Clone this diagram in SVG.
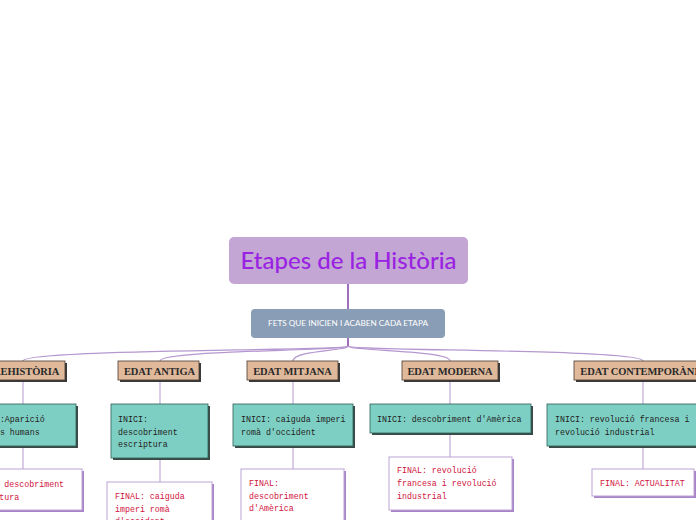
<svg xmlns="http://www.w3.org/2000/svg" width="696" height="520" viewBox="0 0 696 520">
<style>
.stage rect.b{fill:#e0b99b;stroke:#4a3a30;stroke-width:0.8}
.stage rect.s{fill:#3a3a3a}
.stage text{font-family:"Liberation Serif",serif;font-weight:bold;font-size:10.5px;fill:#2a2a2a;text-anchor:middle;letter-spacing:-0.1px}
.ini rect.b{fill:#7ecfc3;stroke:#2f5d55;stroke-width:0.8}
.ini rect.s{fill:#3a4a47}
.ini text{font-family:"Liberation Mono","DejaVu Sans Mono",monospace;font-size:8.3px;fill:#1e1e1e}
.fin rect.b{fill:#ffffff;stroke:#bda3d6;stroke-width:1}
.fin rect.s{fill:#a782c6}
.fin text{font-family:"Liberation Mono","DejaVu Sans Mono",monospace;font-size:8.3px;fill:#d0123c}
.lnk{fill:none;stroke:#c7b0dc;stroke-width:1.3}
.br{fill:none;stroke:#b597d0;stroke-width:1.2}
</style>
<rect width="696" height="520" fill="#ffffff"/>
<g id="connectors">
<path d="M348,284 L348,309" fill="none" stroke="#7f3fa6" stroke-width="1.5"/>
<path d="M348,338 L348,346" fill="none" stroke="#7f3fa6" stroke-width="1.5"/>
<path class="br" d="M348,346 C348,351 23,349 23,361"/>
<path class="br" d="M348,346 C348,351 160,350 160,361"/>
<path class="br" d="M348,346 C348,351 293,350 293,361"/>
<path class="br" d="M348,346 C348,351 450,350 450,361"/>
<path class="br" d="M348,346 C348,351 643,349 643,361"/>
<path class="lnk" d="M23,380 L23,404 M23,446 L23,469"/>
<path class="lnk" d="M160,380 L160,404 M160,458 L160,482"/>
<path class="lnk" d="M293,380 L293,404 M293,446 L293,469"/>
<path class="lnk" d="M450,380 L450,404 M450,434 L450,457"/>
<path class="lnk" d="M643,380 L643,404 M643,446 L643,469"/>
</g>
<g id="title">
<rect x="229" y="237" width="239" height="47" rx="5" fill="#c3a6d4"/>
<text x="348.5" y="269" font-family="Lato,'Noto Sans',sans-serif" font-size="23" font-weight="500" fill="#9a22e2" text-anchor="middle" textLength="216" lengthAdjust="spacingAndGlyphs">Etapes de la Història</text>
</g>
<g id="subtitle">
<rect x="251" y="309" width="194" height="29" rx="4" fill="#8a9db6"/>
<text x="348" y="326" font-family="Lato,'Noto Sans',sans-serif" font-size="7.5" fill="#ffffff" text-anchor="middle" textLength="160" lengthAdjust="spacingAndGlyphs">FETS QUE INICIEN I ACABEN CADA ETAPA</text>
</g>
<g id="stage-prehistoria" class="stage">
<rect class="s" x="-17" y="363" width="84" height="19"/>
<rect class="b" x="-19" y="361" width="84" height="19"/>
<text x="23" y="374.5">PREHISTÒRIA</text>
</g>
<g id="stage-antiga" class="stage">
<rect class="s" x="120" y="363" width="81" height="19"/>
<rect class="b" x="118" y="361" width="81" height="19"/>
<text x="159.5" y="374.5">EDAT ANTIGA</text>
</g>
<g id="stage-mitjana" class="stage">
<rect class="s" x="249" y="363" width="91" height="19"/>
<rect class="b" x="247" y="361" width="91" height="19"/>
<text x="292.5" y="374.5">EDAT MITJANA</text>
</g>
<g id="stage-moderna" class="stage">
<rect class="s" x="404" y="363" width="96" height="19"/>
<rect class="b" x="402" y="361" width="96" height="19"/>
<text x="450" y="374.5">EDAT MODERNA</text>
</g>
<g id="stage-contemporania" class="stage">
<rect class="s" x="576" y="363" width="142" height="19"/>
<rect class="b" x="574" y="361" width="142" height="19"/>
<text x="643" y="374.5">EDAT CONTEMPORÀNIA</text>
</g>
<g id="inici-prehistoria" class="ini">
<rect class="s" x="-33" y="406" width="111" height="42"/>
<rect class="b" x="-35" y="404" width="111" height="42"/>
<text x="-25" y="422">INICI:Aparició</text>
<text x="-25" y="434.5">éssers humans</text>
</g>
<g id="inici-antiga" class="ini">
<rect class="s" x="113" y="406" width="97" height="54"/>
<rect class="b" x="111" y="404" width="97" height="54"/>
<text x="118" y="422">INICI:</text>
<text x="118" y="434.5">descobriment</text>
<text x="118" y="447">escriptura</text>
</g>
<g id="inici-mitjana" class="ini">
<rect class="s" x="235" y="406" width="120" height="42"/>
<rect class="b" x="233" y="404" width="120" height="42"/>
<text x="241" y="422">INICI: caiguda imperi</text>
<text x="241" y="434.5">romà d'occident</text>
</g>
<g id="inici-moderna" class="ini">
<rect class="s" x="372" y="406" width="161" height="29"/>
<rect class="b" x="370" y="404" width="161" height="29"/>
<text x="377" y="422">INICI: descobriment d'Amèrica</text>
</g>
<g id="inici-contemporania" class="ini">
<rect class="s" x="549" y="406" width="155" height="42"/>
<rect class="b" x="547" y="404" width="155" height="42"/>
<text x="555" y="422">INICI: revolució francesa i</text>
<text x="555" y="434.5">revolució industrial</text>
</g>
<g id="final-prehistoria" class="fin">
<rect class="s" x="-38" y="471" width="122" height="41"/>
<rect class="b" x="-40" y="469" width="122" height="41"/>
<text x="-30.5" y="487">FINAL: descobriment</text>
<text x="-30.5" y="499.5">escriptura</text>
</g>
<g id="final-antiga" class="fin">
<rect class="s" x="109" y="484" width="105" height="50"/>
<rect class="b" x="107" y="482" width="105" height="50"/>
<text x="115" y="499">FINAL: caiguda</text>
<text x="115" y="511.5">imperi romà</text>
<text x="115" y="524">d'occident</text>
</g>
<g id="final-mitjana" class="fin">
<rect class="s" x="243" y="471" width="103" height="60"/>
<rect class="b" x="241" y="469" width="103" height="60"/>
<text x="249" y="486">FINAL:</text>
<text x="249" y="498.5">descobriment</text>
<text x="249" y="511">d'Amèrica</text>
</g>
<g id="final-moderna" class="fin">
<rect class="s" x="391" y="459" width="123" height="53"/>
<rect class="b" x="389" y="457" width="123" height="53"/>
<text x="397" y="473">FINAL: revolució</text>
<text x="397" y="486">francesa i revolució</text>
<text x="397" y="498.5">industrial</text>
</g>
<g id="final-contemporania" class="fin">
<rect class="s" x="594" y="471" width="102" height="27"/>
<rect class="b" x="592" y="469" width="102" height="27"/>
<text x="600" y="486">FINAL: ACTUALITAT</text>
</g>
</svg>
